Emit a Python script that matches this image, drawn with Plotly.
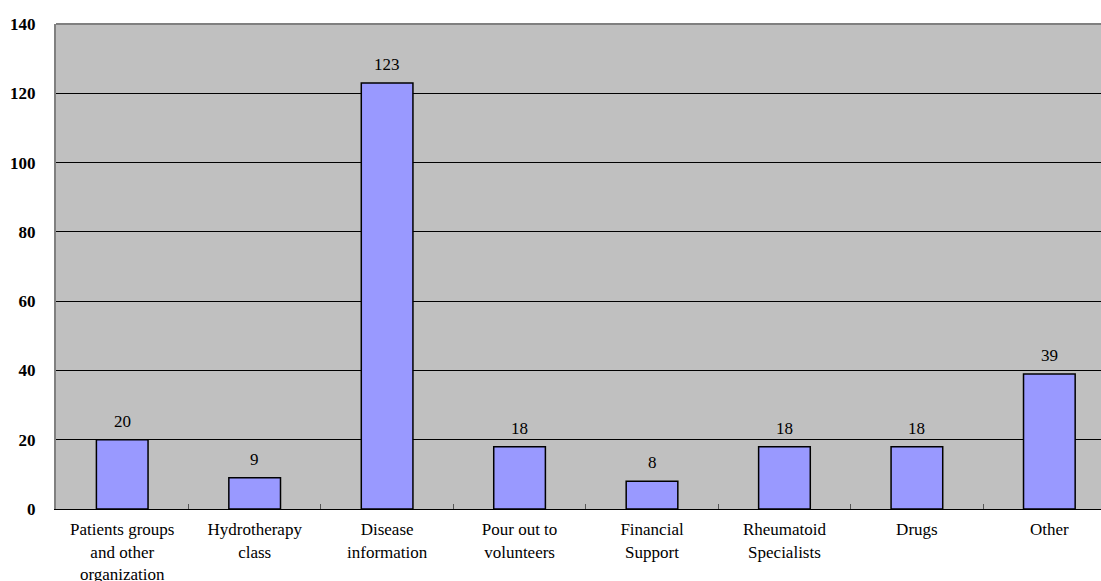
import plotly.graph_objects as go

categories = ["Patients groups<br>and other<br>organization", "Hydrotherapy<br>class",
              "Disease<br>information", "Pour out to<br>volunteers", "Financial<br>Support",
              "Rheumatoid<br>Specialists", "Drugs", "Other"]
values = [20, 9, 123, 18, 8, 18, 18, 39]
y_ticks = [0, 20, 40, 60, 80, 100, 120, 140]

serif = "Liberation Serif, Times New Roman, serif"

fig = go.Figure(go.Bar(
    x=categories, y=values, width=0.39,
    marker=dict(color="#9999FF", line=dict(color="black", width=1.5)),
))

for c, v in zip(categories, values):
    fig.add_annotation(x=c, y=v, text=str(v), showarrow=False, yanchor="bottom",
                       yshift=7, font=dict(family=serif, size=17, color="black"))

fig.update_layout(
    width=1101, height=581,
    margin=dict(l=56, r=0, t=24, b=72),
    paper_bgcolor="white", plot_bgcolor="#C0C0C0",
    showlegend=False,
    font=dict(family=serif),
    shapes=[dict(type="line", xref="paper", yref="paper", x0=0, x1=1, y0=1, y1=1,
                 line=dict(color="#808080", width=2))],
)
fig.update_xaxes(
    range=[-0.5, 7.39], automargin=False,
    showline=True, linecolor="black", linewidth=1,
    tickson="boundaries", ticks="inside", ticklen=5, tickcolor="#555555",
    ticklabelstandoff=5,
    tickfont=dict(family=serif, size=17, color="black"),
    showgrid=False,
)
fig.update_yaxes(
    range=[0, 140], tickvals=y_ticks, ticktext=[str(t) for t in y_ticks],
    automargin=False,
    showline=True, linecolor="#808080", linewidth=2,
    showgrid=True, gridcolor="black", gridwidth=1,
    zeroline=False,
    ticks="", ticklabelstandoff=15,
    tickfont=dict(family=serif, size=17, color="black", weight="bold"),
)

fig.write_html("out.html")
